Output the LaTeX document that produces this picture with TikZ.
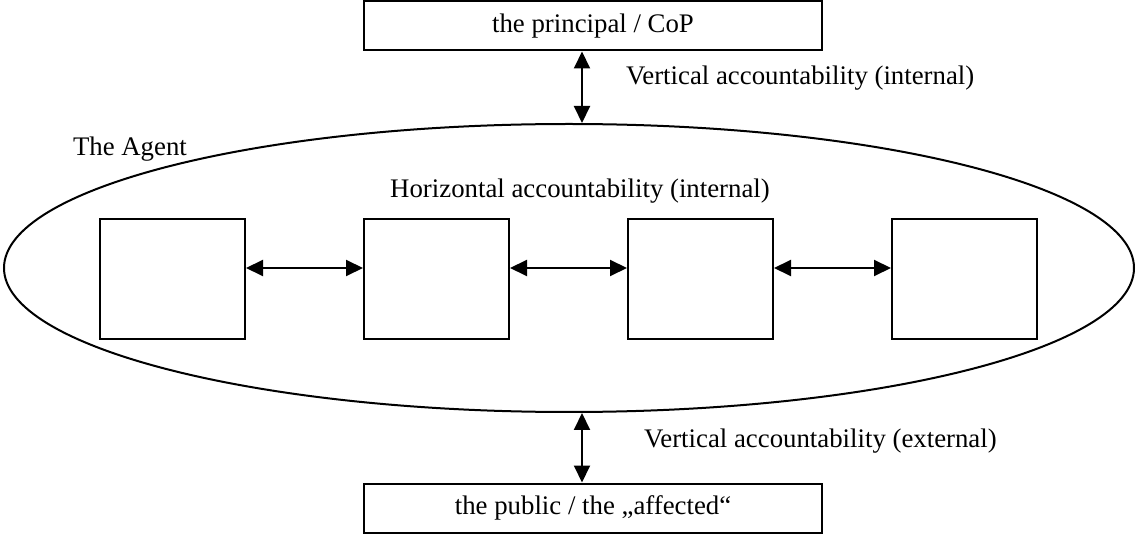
\documentclass[tikz,border=0pt]{standalone}
\usepackage{fontspec}
\setmainfont{Liberation Serif}
\usepackage{tikz}
\usetikzlibrary{arrows.meta,positioning,shapes.geometric}

\begin{document}
\begin{tikzpicture}[x=0.5pt,y=-0.5pt,font=\fontsize{13.4}{16}\selectfont,line width=1pt,
  bar/.style={draw,minimum width=229pt,minimum height=24.5pt,inner sep=0pt},
  unit/.style={draw,minimum width=72.5pt,minimum height=60pt,inner sep=0pt},
  lbl/.style={inner sep=0pt},
  arr/.style={{Triangle[length=8.5pt,width=8pt]}-{Triangle[length=8.5pt,width=8pt]}}]
\useasboundingbox (0,0) rectangle (1136,534);
\node[bar] (principal) at (593,26) {the principal / CoP};
\node[bar] (public) at (593,508) {the public / the „affected“};
\node[ellipse,draw,minimum width=565pt,minimum height=144pt,inner sep=0pt] (agent) at (569,268) {};
\node[lbl,anchor=west] (agentlbl) at (72,149) {The Agent};
\node[lbl] (horlbl) at (580,191) {Horizontal accountability (internal)};
\node[unit] (u1) at (172.5,279) {};
\node[unit,right=58.5pt of u1] (u2) {};
\node[unit,right=58.5pt of u2] (u3) {};
\node[unit,right=58.5pt of u3] (u4) {};
\node[lbl,anchor=west] (vint) at (625,78) {Vertical accountability (internal)};
\node[lbl,anchor=west] (vext) at (643,441) {Vertical accountability (external)};
\draw[arr] ([xshift=-5.5pt]principal.south) -- ([xshift=-5.5pt]principal.south |- agent.north);
\draw[arr] ([xshift=-5.5pt]public.north) -- ([xshift=-5.5pt]public.north |- agent.south);
\draw[arr] ([yshift=5.5pt]u1.east) -- ([yshift=5.5pt]u2.west);
\draw[arr] ([yshift=5.5pt]u2.east) -- ([yshift=5.5pt]u3.west);
\draw[arr] ([yshift=5.5pt]u3.east) -- ([yshift=5.5pt]u4.west);
\end{tikzpicture}
\end{document}
